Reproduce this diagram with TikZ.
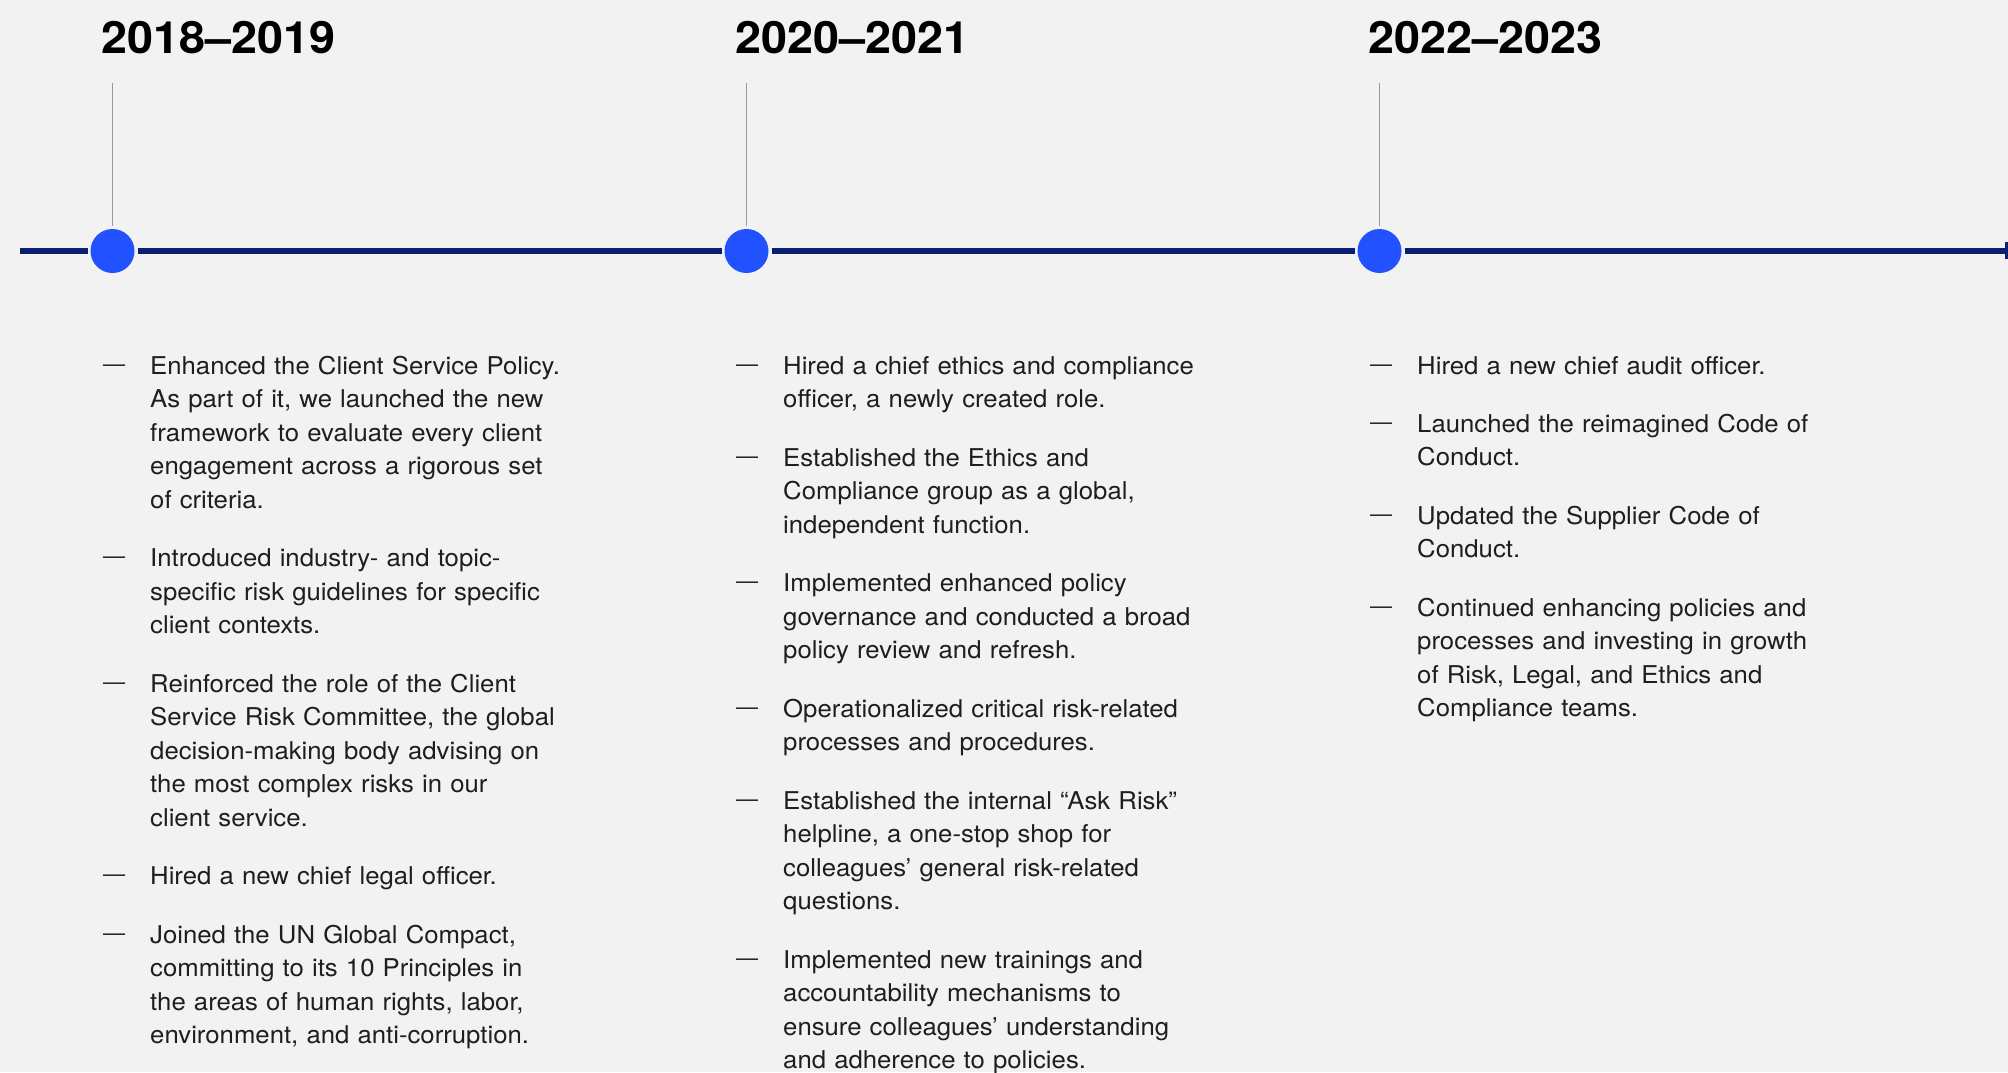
\documentclass[tikz,border=0pt]{standalone}
\usepackage{fontspec}
\setmainfont{TeX Gyre Heros}[FakeStretch=1.05]
\usetikzlibrary{positioning}
\definecolor{bgc}{HTML}{F2F2F2}
\definecolor{navy}{HTML}{0A1F72}
\definecolor{dotblue}{HTML}{2251FF}
\definecolor{tickgray}{HTML}{9A9A9A}
\definecolor{bodytext}{HTML}{1E1E1E}
\tikzset{
  yearlabel/.style={anchor=base west, inner sep=0pt, font=\fontsize{44.5}{50}\selectfont\bfseries, text=black},
  dot/.style={circle, fill=dotblue, minimum size=44pt, inner sep=0pt, outer sep=3pt},
  timeline/.style={draw=navy, line width=6pt},
  stem/.style={draw=tickgray, line width=1.3pt},
  body/.style={anchor=base west, inner sep=0pt, text width=480pt, align=left,
    font=\fontsize{24.5}{33.5}\selectfont, text=bodytext},
  dashmark/.style={anchor=base west, inner sep=0pt, yshift=3pt,
    font=\fontsize{21}{24}\selectfont, text=bodytext},
}
\newcommand{\tlentry}[4]{%
  \node[dashmark] (#1d) at (#2-47, #3) {—};
  \node[body] (#1) at (#2, #3) {#4};}
\begin{document}
\begin{tikzpicture}[x=1pt, y=-1pt]
\fill[bgc] (0,0) rectangle (2008,1072);
\useasboundingbox (0,0) rectangle (2008,1072);
% years
\node[yearlabel] (y1) at (101,53.3) {2018–2019};
\node[yearlabel] (y2) at (735,53.3) {2020–2021};
\node[yearlabel] (y3) at (1368,53.3) {2022–2023};
% dots
\node[dot] (c1) at (112.5,251) {};
\node[dot] (c2) at (746.5,251) {};
\node[dot] (c3) at (1379.5,251) {};
\coordinate (t1) at (112.5,83);
\coordinate (t2) at (746.5,83);
\coordinate (t3) at (1379.5,83);
\coordinate (tlstart) at (20,251);
\coordinate (tlend) at (2008,251);
\draw[stem] (t1) -- (c1.north);
\draw[stem] (t2) -- (c2.north);
\draw[stem] (t3) -- (c3.north);
\draw[timeline] (tlstart) -- (c1.west);
\draw[timeline] (c1.east) -- (c2.west);
\draw[timeline] (c2.east) -- (c3.west);
\draw[timeline] (c3.east) -- (tlend);
\fill[navy] (2004.5,242) rectangle (2008,259);
% column 1
\tlentry{a1}{150}{374}{Enhanced the Client Service Policy.\\As part of it, we launched the new\\framework to evaluate every client\\engagement across a rigorous set\\of criteria.}
\tlentry{a2}{150}{566.5}{Introduced industry- and topic-\\specific risk guidelines for specific\\client contexts.}
\tlentry{a3}{150}{692}{Reinforced the role of the Client\\Service Risk Committee, the global\\decision-making body advising on\\the most complex risks in our\\client service.}
\tlentry{a4}{150}{884.5}{Hired a new chief legal officer.}
\tlentry{a5}{150}{943}{Joined the UN Global Compact,\\committing to its 10 Principles in\\the areas of human rights, labor,\\environment, and anti-corruption.}
% column 2
\tlentry{b1}{783}{374}{Hired a chief ethics and compliance\\officer, a newly created role.}
\tlentry{b2}{783}{466}{Established the Ethics and\\Compliance group as a global,\\independent function.}
\tlentry{b3}{783}{591.5}{Implemented enhanced policy\\governance and conducted a broad\\policy review and refresh.}
\tlentry{b4}{783}{717}{Operationalized critical risk-related\\processes and procedures.}
\tlentry{b5}{783}{809}{Established the internal “Ask Risk”\\helpline, a one-stop shop for\\colleagues’ general risk-related\\questions.}
\tlentry{b6}{783}{968}{Implemented new trainings and\\accountability mechanisms to\\ensure colleagues’ understanding\\and adherence to policies.}
% column 3
\tlentry{c31}{1417}{374}{Hired a new chief audit officer.}
\tlentry{c32}{1417}{432}{Launched the reimagined Code of\\Conduct.}
\tlentry{c33}{1417}{524}{Updated the Supplier Code of\\Conduct.}
\tlentry{c34}{1417}{616}{Continued enhancing policies and\\processes and investing in growth\\of Risk, Legal, and Ethics and\\Compliance teams.}
\end{tikzpicture}
\end{document}
